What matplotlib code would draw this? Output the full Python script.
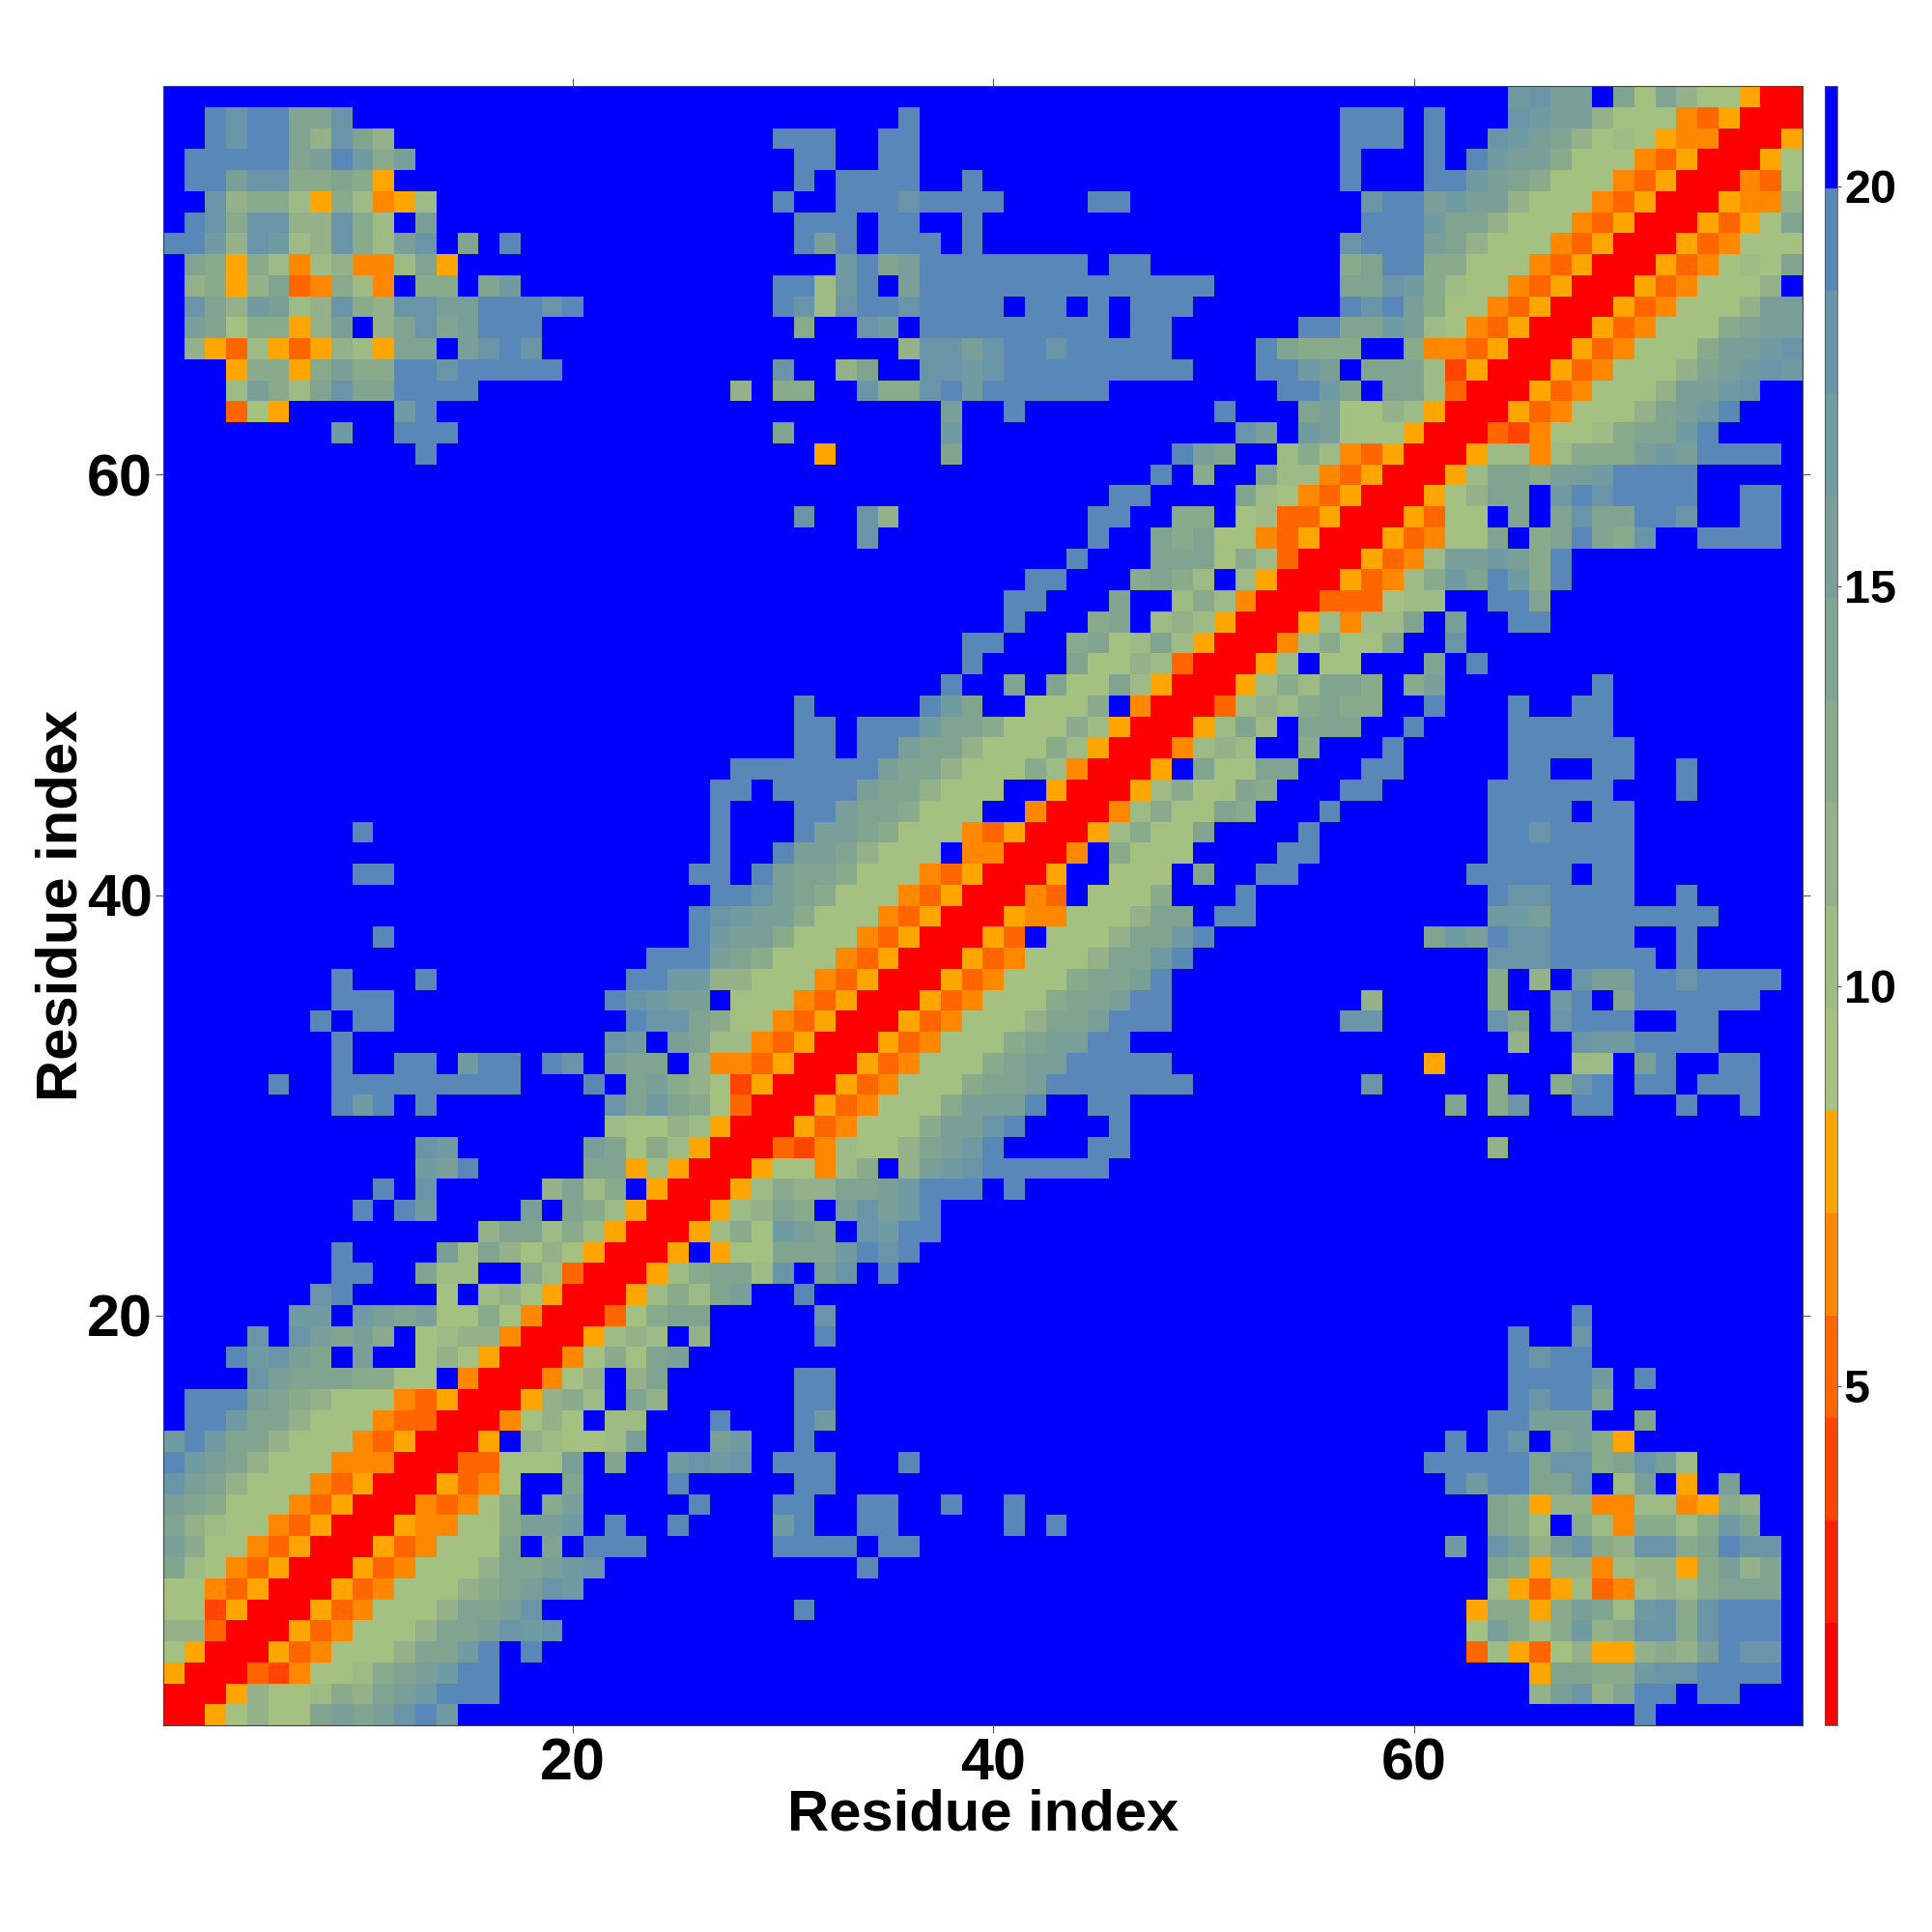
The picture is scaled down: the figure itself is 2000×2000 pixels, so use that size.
import numpy as np
import matplotlib
matplotlib.use("Agg")
import matplotlib.pyplot as plt
from matplotlib.colors import ListedColormap, BoundaryNorm

N_RESIDUES = 78
AXIS_TITLE = "Residue index"
MAP_TICKS = [20, 40, 60]
BAR_TICKS = [5, 10, 15, 20]
VMIN, VMAX = 0.76, 21.25
LEVEL_CODES = "abcdefghijklmno."
LEVEL_COLORS = ["#ff0000", "#ff2200", "#ff4500", "#ff6600", "#ff8800", "#ffa500",
                "#a5c182", "#9eba85", "#95b189", "#8aaa8c", "#80a490", "#7a9e98",
                "#709ba2", "#6a95a8", "#5987b8", "#0000ff"]

# Distance levels on and right of the diagonal: each string starts at the diagonal cell of its residue.
NEAR_DIAGONAL = [
    "aafgiggklklnom", "aafigghjiklmooo", "aadcegghjklmoo", "aafdegggikkmo.o",
    "aafdegggikklnmn", "aafdegggikkln", "aafdegggijklnm", "aafdegggikklmn",
    "aafdegggk.k.ooo", "aafeeggjllm.o..o", "aaedegj.jl.", "aafdeg..k.",
    "aaddgggl.k..mnmn.ooo...o", "aaf.ihgghl...lm..o", "aaegig.hh...o...om", "aafijh.ki......oo",
    "aaegi.ik......oo", "aaegjgkl", "aafhih.i.....o", "aadgjkk.....n",
    "aafhjhkl..o", "aafhjkkhn.ln.o", "aaf.fggkkkmono", "aafhjgmlk.nmoo",
    "aafhikj.lnlmo", "aafhjiikklmooo.o", "aafggehj.ilmnoooooo", "aadcehggiklmo....oo",
    "aafdegggjllno....o", "aafdegggjlllo..oo", "aafdegggjkklooooooo", "aafdegggjkllooooo",
    "aafdegggjklloo", "aafdegggikklooo", "aafdegggjkkloo", "aafdegggjkklo",
    "aafdegggikkmo", "aafd.gggikkmo", "aafeegggikk.oo", "aaed.gggj...o",
    "aaf..ggg.k..oo", "aae.jggg....oo", "aafhjggk....o", "aaehjggkj...o",
    "aafhjggkj...oo", "aaf.kggkk...oo", "aaehih..j...o", "aafhkh.kkk..o",
    "aadhihjkjj..o", "aafhjhkkj.jl", "aafh.gg...k.o", "aaehjggk..n",
    "aafhehhk.l..oo", "aadddghh..ook", "aafdehjmkomjo", "aafdehllmljo",
    "aafdeggk.jkokjn..oooo", "aafdgg.k.knkkoon..oo", "aafgikk.monoooo..oo", "aafhkkjllmoooo",
    "aafhhehjjjlmloooo", "aadcegghjkkmo", "aafdegggiklmo", "aafdegggillmn",
    "aafdegggiklmnm", "aafdegggjllmn", "aafdegggjkll", "aafdegggill",
    "aafdegggi.", "aafdeghgk", "aafdeggg", "aafdfgk", "aafeei", "aaedg", "aafg", "aaf", "aa", "a",
]

# Contacts far from the diagonal: residue -> (first partner residue, levels).
FAR_CONTACTS = {
    1: [(71, "o")],
    2: [(66, "ilnikoo.oo")],
    3: [(66, "fkkjjmnnoooo")],
    4: [(63, "dhfdgiffijilonn")],
    5: [(63, "gljhjmijnnjnooo")],
    6: [(31, "o"), (63, "fjjfjlkhmnjnooo")],
    7: [(64, "hfdfhdehihjkkk")],
    8: [(34, "o"), (64, "kjfiiehiifjlik")],
    9: [(30, "oooo.oo"), (62, "m"), (64, "nlilnjinnjkonn")],
    10: [(30, "mo..oo"), (41, "o"), (43, "o"), (64, "kjh.jhejjhjmk")],
    11: [(26, "o"), (30, "oo"), (34, "oo"), (38, "o"), (41, "o"), (64, "kjfiieehhefji")],
    12: [(25, "o"), (31, "oo"), (62, "omookkn.hl.f.l")],
    13: [(61, "oooooknnjknlh")],
    14: [(62, "o"), (64, "on.kljf")],
    15: [(64, "oolll"), (71, "k")],
    16: [(65, "onook")],
    17: [(65, "oooom"), (71, "o")],
    18: [(65, "onoo")],
    19: [(65, "o"), (68, "n")],
    20: [(68, "o")],
    28: [(64, "i")],
    30: [(62, "k.jn"), (68, "oo"), (73, "o"), (76, "o")],
    31: [(58, "n"), (64, "j..jno.oo.ooo")],
    32: [(61, "f"), (68, "hh.lo..oo")],
    33: [(65, "i..nmmoooo")],
    34: [(57, "nn"), (64, "nk.nooo..oo")],
    35: [(58, "i"), (64, "j..mo.koooooo")],
    36: [(64, "j.i.nlloonoooo")],
    37: [(64, "nnnooooo.o")],
    38: [(61, "kmlonnoooo..o")],
    39: [(64, "mmloooooooo")],
    40: [(64, "onnoooo..o")],
    41: [(63, "ooooo.oo")],
    42: [(64, "ooooooo")],
    43: [(64, "oonoooo")],
    44: [(64, "oooo.oo")],
    45: [(64, "oooooo...o")],
    46: [(65, "oo..oo..o")],
    47: [(65, "oooooo")],
    48: [(65, "ooooo")],
    49: [(65, "o..oo")],
    50: [(69, "o")],
}

n_levels = len(LEVEL_CODES)
bounds = np.linspace(VMIN, VMAX, n_levels + 1)
centres = (bounds[:-1] + bounds[1:]) / 2
value_of = dict(zip(LEVEL_CODES, centres))

distance = np.full((N_RESIDUES, N_RESIDUES), centres[-1])
for i, near in enumerate(NEAR_DIAGONAL):
    for k, code in enumerate(near):
        distance[i, i + k] = distance[i + k, i] = value_of[code]
for res, segments in FAR_CONTACTS.items():
    for start, codes in segments:
        for k, code in enumerate(codes):
            j = start - 1 + k
            distance[res - 1, j] = distance[j, res - 1] = value_of[code]

plt.rcParams["font.family"] = ["Liberation Sans", "DejaVu Sans"]
plt.rcParams["font.weight"] = "bold"

cmap = ListedColormap(LEVEL_COLORS)
norm = BoundaryNorm(bounds, n_levels)

fig = plt.figure(figsize=(20, 20), dpi=100, facecolor="white")
ax = fig.add_axes([0.0845, 0.107, 0.8485, 0.8485])
im = ax.imshow(distance, origin="lower", cmap=cmap, norm=norm, interpolation="nearest",
               extent=(0.5, N_RESIDUES + 0.5, 0.5, N_RESIDUES + 0.5), aspect="auto")
ax.set_xticks(MAP_TICKS)
ax.set_yticks(MAP_TICKS)
ax.tick_params(axis="both", which="major", top=True, right=True, length=6, width=0.8,
               color="#555555", labelsize=44)
ax.tick_params(axis="x", pad=3)
ax.tick_params(axis="y", pad=2)
for s in ax.spines.values():
    s.set_linewidth(0.8)
    s.set_color("#444444")
ax.set_xlabel(AXIS_TITLE, fontsize=43, fontweight="bold", va="center")
ax.set_ylabel(AXIS_TITLE, fontsize=43, fontweight="bold", va="center")
ax.xaxis.set_label_coords(0.5, -0.055)
ax.yaxis.set_label_coords(-0.062, 0.5)

cax = fig.add_axes([0.9445, 0.107, 0.0065, 0.8485])
cbar = fig.colorbar(im, cax=cax, boundaries=bounds, ticks=BAR_TICKS, spacing="uniform", drawedges=False)
cbar.ax.minorticks_off()
cbar.ax.set_yticks(BAR_TICKS)
cbar.ax.set_yticklabels([str(t) for t in BAR_TICKS])
cbar.ax.tick_params(length=3, width=0.8, color="#555555", labelsize=35, pad=2)
cbar.outline.set_linewidth(0.6)
cbar.outline.set_edgecolor("#555555")

fig.savefig("out.png", dpi=100, facecolor="white")
